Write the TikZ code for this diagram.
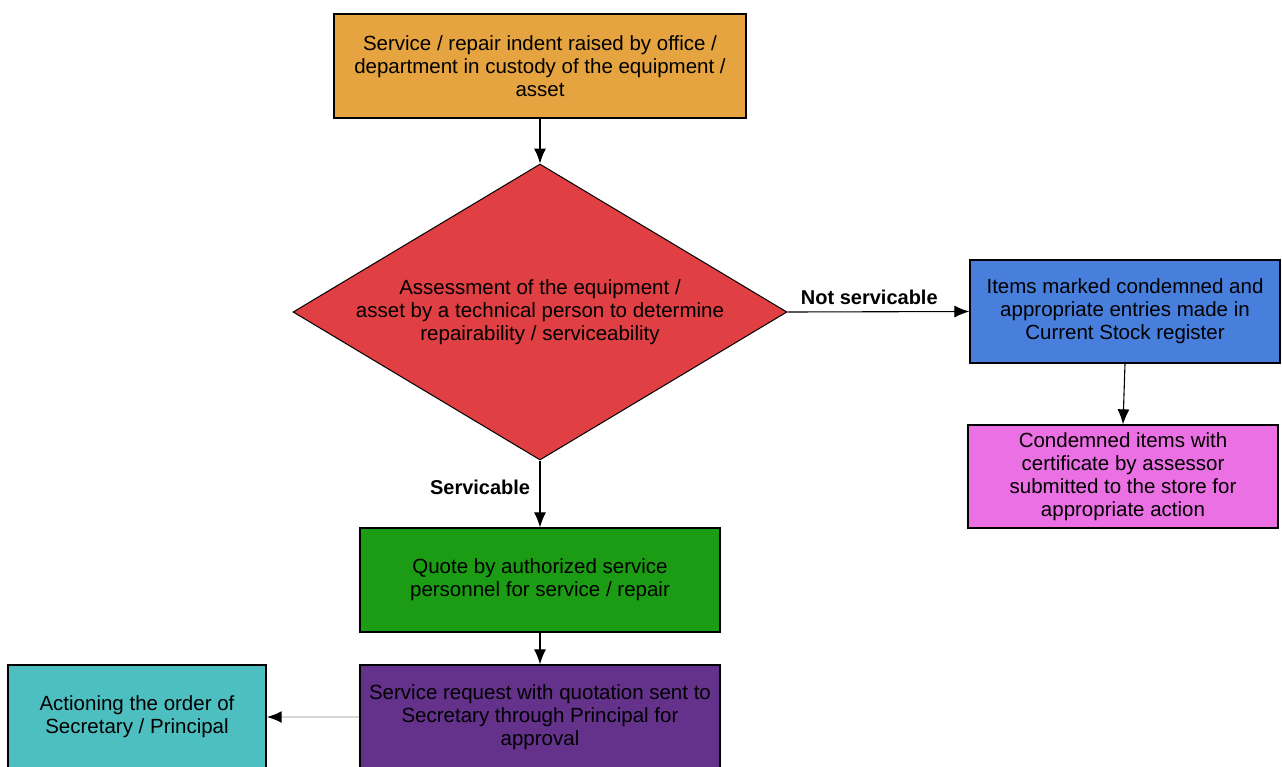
\documentclass[tikz,border=0pt]{standalone}
\usepackage{fontspec}
\setmainfont{Liberation Sans}
\usetikzlibrary{shapes.geometric,arrows.meta}

\definecolor{indentorange}{HTML}{E5A43F}
\definecolor{assessred}{HTML}{E04043}
\definecolor{stockblue}{HTML}{487FDC}
\definecolor{storepink}{HTML}{EA70E3}
\definecolor{quotegreen}{HTML}{1C9C14}
\definecolor{requestpurple}{HTML}{64318B}
\definecolor{actioncyan}{HTML}{4EBFC0}
\definecolor{faintline}{HTML}{D6D6D6}

\tikzset{
	box/.style={draw=black, line width=1.3pt, rectangle, inner sep=0pt, align=center,
		font=\fontsize{20.5}{23}\selectfont},
	decision/.style={draw=black, line width=1pt, diamond, inner sep=0pt, aspect=1.67,
		align=center, font=\fontsize{20.5}{23}\selectfont},
	flow/.style={draw=black, line width=1.1pt, -{Latex[length=15pt,width=12pt]}},
	tag/.style={font=\fontsize{20}{22}\selectfont\bfseries}
}

\begin{document}
\begin{tikzpicture}[x=1pt, y=-1pt]
	\useasboundingbox (0,0) rectangle (1282,766);
	\clip (0,0) rectangle (1282,766);
	% 方框
	\node [box, fill=indentorange, minimum width=412, minimum height=104] (indent) at (540,66)
		{Service / repair indent raised by office /\\department in custody of the equipment /\\asset};
	\node [decision, fill=assessred, minimum width=494, minimum height=296] (assess) at (540,312)
		{Assessment of the equipment /\\asset by a technical person to determine\\repairability / serviceability};
	\node [box, fill=stockblue, minimum width=310, minimum height=103] (stock) at (1125,311.5)
		{Items marked condemned and\\appropriate entries made in\\Current Stock register};
	\node [box, fill=storepink, minimum width=310, minimum height=103] (store) at (1123,476.5)
		{Condemned items with\\certificate by assessor\\submitted to the store for\\appropriate action};
	\node [box, fill=quotegreen, minimum width=360, minimum height=104] (quote) at (540,580)
		{Quote by authorized service\\personnel for service / repair};
	\node [box, fill=requestpurple, minimum width=360, minimum height=104] (request) at (540,717)
		{Service request with quotation sent to\\Secretary through Principal for\\approval};
	\node [box, fill=actioncyan, minimum width=258, minimum height=104] (action) at (137,717)
		{Actioning the order of\\Secretary / Principal};
	% 连线
	\draw [flow] (indent.south) -- (assess.north);
	\draw [flow] (assess.south) -- (quote.north) node [tag, pos=0.4, left=6pt] {Servicable};
	\draw [flow] (assess.east) -- (stock.west) node [tag, pos=0.45, above=3pt] {Not servicable};
	\draw [flow] (stock.south) -- (store.north);
	\draw [flow] (quote.south) -- (request.north);
	\draw [flow, draw=faintline, line width=2pt, -{Latex[length=15pt,width=12pt,color=black]}] (request.west) -- (action.east);
\end{tikzpicture}
\end{document}
